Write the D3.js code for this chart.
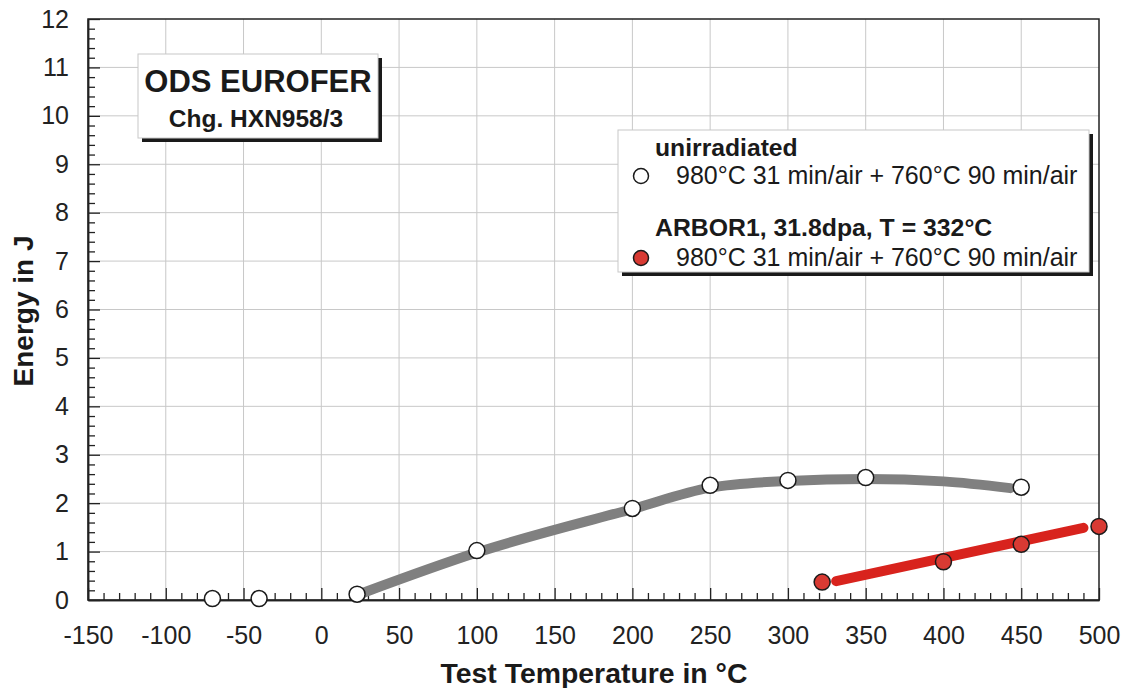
<!DOCTYPE html>
<html><head><meta charset="utf-8">
<script src="https://cdn.jsdelivr.net/npm/d3@7"></script>
<style>body{margin:0;background:#fff}svg{display:block;font-family:"Liberation Sans",Arial,sans-serif}</style>
</head><body><svg id="c" width="1125" height="688"></svg>
<script>
const xTicks = [-150,-100,-50,0,50,100,150,200,250,300,350,400,450,500];
const yTicks = [0,1,2,3,4,5,6,7,8,9,10,11,12];
const unirrT = [-70,-40,23,100,200,250,300,350,450];
const unirrE = [0.03,0.03,0.12,1.02,1.89,2.37,2.47,2.53,2.33];
const irrT = [322,400,450,500];
const irrE = [0.37,0.79,1.15,1.52];
const fitUnirrT = [27,100,200,250,300,350,400,443];
const fitUnirrE = [0.15,0.98,1.88,2.32,2.46,2.5,2.45,2.31];
const fitIrrT = [331,490];
const fitIrrE = [0.39,1.49];
const titleLines = ["ODS EUROFER","Chg. HXN958/3"];
const legendLabels = ["unirradiated","980°C 31 min/air + 760°C 90 min/air","ARBOR1, 31.8dpa, T = 332°C","980°C 31 min/air + 760°C 90 min/air"];

const svg = d3.select("#c");
const FF = "Liberation Sans, Arial, sans-serif";
const L=88,R=1099,T=19,B=600;
const x = d3.scaleLinear().domain([-150,500]).range([L,R]);
const y = d3.scaleLinear().domain([0,12]).range([B,T]);

// grid
const g = svg.append("g");
g.selectAll(".gx").data(xTicks.slice(1,-1)).join("line")
 .attr("x1",d=>x(d)).attr("x2",d=>x(d)).attr("y1",T).attr("y2",B)
 .attr("stroke","#c8c8c8").attr("stroke-width",1);
g.selectAll(".gy").data(yTicks.slice(1,-1)).join("line")
 .attr("x1",L).attr("x2",R).attr("y1",d=>y(d)).attr("y2",d=>y(d))
 .attr("stroke","#c8c8c8").attr("stroke-width",1);

// frame
svg.append("rect").attr("x",L).attr("y",T).attr("width",R-L).attr("height",B-T)
 .attr("fill","none").attr("stroke","#222").attr("stroke-width",1.5);

// axes
const fmt = d=>String(d);
const xAxis = svg.append("g").attr("transform",`translate(0,${B})`)
 .call(d3.axisBottom(x).tickValues(xTicks).tickFormat(fmt).tickSizeInner(-12).tickSizeOuter(0).tickPadding(26));
const xMinor = svg.append("g").attr("transform",`translate(0,${B})`)
 .call(d3.axisBottom(x).tickValues(d3.range(-150,501,10).filter(v=>v%50!==0)).tickFormat("").tickSizeInner(-7).tickSizeOuter(0));
const yAxis = svg.append("g").attr("transform",`translate(${L},0)`)
 .call(d3.axisLeft(y).tickValues(yTicks).tickFormat(fmt).tickSizeInner(-12).tickSizeOuter(0).tickPadding(19));
const yMinor = svg.append("g").attr("transform",`translate(${L},0)`)
 .call(d3.axisLeft(y).tickValues(d3.range(0,60).map(i=>i*0.2).filter((v,i)=>i%5!==0)).tickFormat("").tickSizeInner(-7).tickSizeOuter(0));
[xAxis,xMinor,yAxis,yMinor].forEach(a=>{a.attr("font-family",FF).attr("font-size",25);a.select(".domain").attr("stroke","#222").attr("stroke-width",1.5);a.selectAll("line").attr("stroke","#222").attr("stroke-width",1.3);});
xAxis.selectAll("text").style("font-size","25px").attr("fill","#222");
yAxis.selectAll("text").style("font-size","25px").attr("fill","#222");

// axis titles
svg.append("text").attr("x",594).attr("y",683).attr("text-anchor","middle")
 .style("font-size","28.4px").attr("font-weight","bold").attr("fill","#1a1a1a").text("Test Temperature in °C");
svg.append("text").attr("transform",`translate(33,311) rotate(-90)`).attr("text-anchor","middle")
 .style("font-size","28px").attr("font-weight","bold").attr("fill","#1a1a1a").text("Energy in J");

// fit lines
const line = d3.line().x(d=>x(d[0])).y(d=>y(d[1])).curve(d3.curveMonotoneX);
svg.append("path").datum(d3.zip(fitUnirrT,fitUnirrE)).attr("d",line)
 .attr("fill","none").attr("stroke","#808080").attr("stroke-width",10).attr("stroke-linecap","round");
svg.append("path").datum(d3.zip(fitIrrT,fitIrrE)).attr("d",d3.line().x(d=>x(d[0])).y(d=>y(d[1])))
 .attr("fill","none").attr("stroke","#d8231d").attr("stroke-width",10).attr("stroke-linecap","round");

// points
svg.append("g").selectAll("circle").data(d3.zip(unirrT,unirrE)).join("circle")
 .attr("cx",d=>x(d[0])).attr("cy",d=>y(d[1])).attr("r",8)
 .attr("fill","#fff").attr("stroke","#1a1a1a").attr("stroke-width",1.5);
svg.append("g").selectAll("circle").data(d3.zip(irrT,irrE)).join("circle")
 .attr("cx",d=>x(d[0])).attr("cy",d=>y(d[1])).attr("r",8)
 .attr("fill","#d83a33").attr("stroke","#1a1a1a").attr("stroke-width",1.5);

// boxes
function box(x0,y0,w,h){
  svg.append("rect").attr("x",x0+4).attr("y",y0+4).attr("width",w).attr("height",h).attr("fill","#1a1a1a");
  svg.append("rect").attr("x",x0).attr("y",y0).attr("width",w).attr("height",h).attr("fill","#fff").attr("stroke","#c8c8c8").attr("stroke-width",1);
}
box(138,54,240,84);
svg.append("text").attr("x",258).attr("y",92).attr("text-anchor","middle").style("font-size","31px").attr("font-weight","bold").attr("fill","#1a1a1a").text(titleLines[0]);
svg.append("text").attr("x",256).attr("y",127).attr("text-anchor","middle").style("font-size","24.5px").attr("font-weight","bold").attr("fill","#1a1a1a").text(titleLines[1]);

// legend
box(618,130,471,142);
svg.append("text").attr("x",655).attr("y",156).style("font-size","24.7px").attr("font-weight","bold").attr("fill","#1a1a1a").text(legendLabels[0]);
svg.append("circle").attr("cx",641).attr("cy",176).attr("r",7.5).attr("fill","#fff").attr("stroke","#1a1a1a").attr("stroke-width",1.5);
svg.append("text").attr("x",676).attr("y",184).style("font-size","25px").attr("fill","#1a1a1a").text(legendLabels[1]);
svg.append("text").attr("x",655).attr("y",236).style("font-size","24.8px").attr("font-weight","bold").attr("fill","#1a1a1a").text(legendLabels[2]);
svg.append("circle").attr("cx",641).attr("cy",258).attr("r",7.5).attr("fill","#d83a33").attr("stroke","#1a1a1a").attr("stroke-width",1.5);
svg.append("text").attr("x",676).attr("y",266).style("font-size","25px").attr("fill","#1a1a1a").text(legendLabels[3]);
</script></body></html>
